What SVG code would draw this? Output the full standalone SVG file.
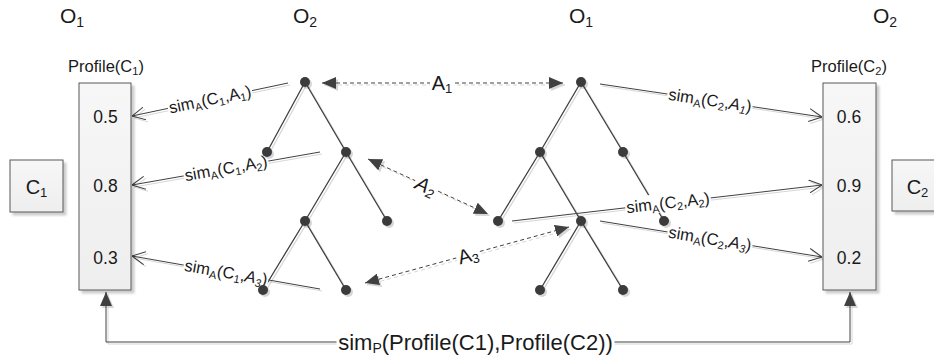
<svg xmlns="http://www.w3.org/2000/svg" width="934" height="356" viewBox="0 0 934 356">
  <style>
    text { font-family: "Liberation Sans", Arial, sans-serif; fill: #1a1a1a; }
    .title { font-size: 21px; }
    .cap { font-size: 16.5px; text-anchor: middle; }
    .val { font-size: 17.5px; text-anchor: middle; }
    .lbl { font-size: 16.5px; text-anchor: middle; }
    .big { font-size: 20px; text-anchor: middle; }
    .box { fill: url(#boxFill); stroke: #595959; stroke-width: 1; }
    .edge { stroke: #404040; stroke-width: 1.3; fill: none; }
    .conn { stroke: #404040; stroke-width: 1; fill: none; }
    .dash { stroke: #404040; stroke-width: 1; fill: none; stroke-dasharray: 4 3; }
    .dot { fill: #3a3a3a; }
    .bg { fill: #ffffff; }
  </style>
  <defs>
    <linearGradient id="boxFill" x1="0" y1="0" x2="0" y2="1">
      <stop offset="0" stop-color="#f7f7f7"/>
      <stop offset="1" stop-color="#eeeeee"/>
    </linearGradient>
    <filter id="shadow" x="-10%" y="-10%" width="130%" height="130%">
      <feDropShadow dx="2" dy="2" stdDeviation="0.6" flood-color="#000" flood-opacity="0.16"/>
    </filter>
    <filter id="boxShadow" x="-10%" y="-10%" width="130%" height="130%">
      <feDropShadow dx="3" dy="3" stdDeviation="0.8" flood-color="#000" flood-opacity="0.2"/>
    </filter>
    <marker id="open" viewBox="0 0 13 14" refX="13" refY="7" markerWidth="13" markerHeight="14" orient="auto" markerUnits="userSpaceOnUse">
      <path d="M0,0.5 L13,7 L0,13.5" fill="none" stroke="#404040" stroke-width="1"/>
    </marker>
    <marker id="tri" viewBox="0 0 14 12" refX="14" refY="6" markerWidth="14" markerHeight="12" orient="auto-start-reverse" markerUnits="userSpaceOnUse">
      <path d="M0,0 L14,6 L0,12 z" fill="#404040"/>
    </marker>
  </defs>

  <rect width="934" height="356" fill="#ffffff"/>

  <!-- ontology titles -->
  <g id="titles">
    <text class="title" x="60" y="23">O<tspan font-size="14" dy="4">1</tspan></text>
    <text class="title" x="293" y="23">O<tspan font-size="14" dy="4">2</tspan></text>
    <text class="title" x="569" y="23">O<tspan font-size="14" dy="4">1</tspan></text>
    <text class="title" x="873" y="23">O<tspan font-size="14" dy="4">2</tspan></text>
  </g>

  <g id="connectors">
    <!-- tree edges -->
    <g id="edges-o2" filter="url(#shadow)">
      <path class="edge" d="M305,82 L267,152 M305,82 L346,152 M346,152 L305,221 M346,152 L387,221 M305,221 L263,290 M305,221 L346,290"/>
    </g>
    <g id="edges-o1" filter="url(#shadow)">
      <path class="edge" d="M581,82 L540,152 M581,82 L623,152 M540,152 L498,221 M540,152 L581,221 M623,152 L664,221 M581,221 L540,290 M581,221 L623,290"/>
    </g>

    <!-- similarity links into the profiles -->
    <g id="sim-links" filter="url(#shadow)">
      <line class="conn" x1="288" y1="83" x2="132" y2="116" marker-end="url(#open)"/>
      <line class="conn" x1="320" y1="152" x2="132" y2="185" marker-end="url(#open)"/>
      <line class="conn" x1="320" y1="289" x2="132" y2="256" marker-end="url(#open)"/>
      <line class="conn" x1="600" y1="84" x2="822" y2="117" marker-end="url(#open)"/>
      <line class="conn" x1="512" y1="221" x2="822" y2="185" marker-end="url(#open)"/>
      <line class="conn" x1="600" y1="221" x2="822" y2="257" marker-end="url(#open)"/>
    </g>

    <!-- alignments between the trees -->
    <g id="alignments" filter="url(#shadow)">
      <line class="dash" x1="322" y1="83" x2="563" y2="83" marker-start="url(#tri)" marker-end="url(#tri)"/>
      <line class="dash" x1="368" y1="159" x2="488" y2="214" marker-start="url(#tri)" marker-end="url(#tri)"/>
      <line class="dash" x1="365" y1="283" x2="569" y2="227" marker-start="url(#tri)" marker-end="url(#tri)"/>
    </g>

    <!-- profile similarity -->
    <g id="profile-link" filter="url(#shadow)">
      <path class="conn" d="M106,292 V342 H850 V292" marker-start="url(#tri)" marker-end="url(#tri)"/>
    </g>

    <!-- link labels -->
    <g id="labels">
      <g transform="translate(210,99.5) rotate(-11.9)">
        <rect class="bg" x="-43" y="-10" width="86" height="19"/>
        <text class="lbl" y="5.5">sim<tspan font-size="11" dy="3">A</tspan><tspan dy="-3">(C</tspan><tspan font-size="11" dy="3">1</tspan><tspan dy="-3">,A</tspan><tspan font-size="11" dy="3">1</tspan><tspan dy="-3">)</tspan></text>
      </g>
      <g transform="translate(226,168.5) rotate(-10)">
        <rect class="bg" x="-43" y="-10" width="86" height="19"/>
        <text class="lbl" y="5.5">sim<tspan font-size="11" dy="3">A</tspan><tspan dy="-3">(C</tspan><tspan font-size="11" dy="3">1</tspan><tspan dy="-3">,A</tspan><tspan font-size="11" dy="3">2</tspan><tspan dy="-3">)</tspan></text>
      </g>
      <g transform="translate(226,272.5) rotate(10)">
        <rect class="bg" x="-43" y="-10" width="86" height="19"/>
        <text class="lbl" y="5.5">sim<tspan font-size="11" dy="3">A</tspan><tspan dy="-3">(C</tspan><tspan font-size="11" dy="3">1</tspan><tspan dy="-3">,</tspan><tspan font-style="italic">A</tspan><tspan font-size="11" dy="3" font-style="italic">3</tspan><tspan dy="-3">)</tspan></text>
      </g>
      <g transform="translate(710,100.4) rotate(8.5)">
        <rect class="bg" x="-43" y="-10" width="86" height="19"/>
        <text class="lbl" y="5.5">sim<tspan font-size="11" dy="3">A</tspan><tspan dy="-3">(C</tspan><tspan font-size="11" dy="3">2</tspan><tspan dy="-3">,</tspan><tspan font-style="italic">A</tspan><tspan font-size="11" dy="3" font-style="italic">1</tspan><tspan dy="-3">)</tspan></text>
      </g>
      <g transform="translate(668,202.9) rotate(-6.6)">
        <rect class="bg" x="-43" y="-10" width="86" height="19"/>
        <text class="lbl" y="5.5">sim<tspan font-size="11" dy="3">A</tspan><tspan dy="-3">(C</tspan><tspan font-size="11" dy="3">2</tspan><tspan dy="-3">,A</tspan><tspan font-size="11" dy="3">2</tspan><tspan dy="-3">)</tspan></text>
      </g>
      <g transform="translate(710,238.8) rotate(9.2)">
        <rect class="bg" x="-43" y="-10" width="86" height="19"/>
        <text class="lbl" y="5.5">sim<tspan font-size="11" dy="3">A</tspan><tspan dy="-3">(C</tspan><tspan font-size="11" dy="3">2</tspan><tspan dy="-3">,</tspan><tspan font-style="italic">A</tspan><tspan font-size="11" dy="3" font-style="italic">3</tspan><tspan dy="-3">)</tspan></text>
      </g>

      <g transform="translate(442,83)">
        <rect class="bg" x="-12" y="-10" width="24" height="20"/>
        <text class="big" y="7">A<tspan font-size="13" dy="3">1</tspan></text>
      </g>
      <g transform="translate(426,186) rotate(24.6)">
        <rect class="bg" x="-12" y="-10" width="24" height="20"/>
        <text class="big" y="7" font-style="italic">A<tspan font-size="13" dy="3">2</tspan></text>
      </g>
      <g transform="translate(468,255) rotate(-15.4)">
        <rect class="bg" x="-12" y="-10" width="24" height="20"/>
        <text class="big" y="7">A<tspan font-size="13" dy="3">3</tspan></text>
      </g>

      <g transform="translate(475.5,342)">
        <rect class="bg" x="-139" y="-12" width="278" height="24"/>
        <text font-size="22" text-anchor="middle" y="7.5">sim<tspan font-size="14" dy="3">P</tspan><tspan dy="-3">(Profile(C1),Profile(C2))</tspan></text>
      </g>
    </g>
  </g>

  <!-- tree nodes of O2 -->
  <g id="o2-tree" filter="url(#shadow)">
    <g id="o2-n1"><circle class="dot" cx="305" cy="82" r="5"/></g>
    <g id="o2-n2"><circle class="dot" cx="267" cy="152" r="5"/></g>
    <g id="o2-n3"><circle class="dot" cx="346" cy="152" r="5"/></g>
    <g id="o2-n4"><circle class="dot" cx="305" cy="221" r="5"/></g>
    <g id="o2-n5"><circle class="dot" cx="387" cy="221" r="5"/></g>
    <g id="o2-n6"><circle class="dot" cx="263" cy="290" r="5"/></g>
    <g id="o2-n7"><circle class="dot" cx="346" cy="290" r="5"/></g>
  </g>

  <!-- tree nodes of O1 -->
  <g id="o1-tree" filter="url(#shadow)">
    <g id="o1-n1"><circle class="dot" cx="581" cy="82" r="5"/></g>
    <g id="o1-n2"><circle class="dot" cx="540" cy="152" r="5"/></g>
    <g id="o1-n3"><circle class="dot" cx="623" cy="152" r="5"/></g>
    <g id="o1-n4"><circle class="dot" cx="498" cy="221" r="5"/></g>
    <g id="o1-n5"><circle class="dot" cx="581" cy="221" r="5"/></g>
    <g id="o1-n6"><circle class="dot" cx="664" cy="221" r="5"/></g>
    <g id="o1-n7"><circle class="dot" cx="540" cy="290" r="5"/></g>
    <g id="o1-n8"><circle class="dot" cx="623" cy="290" r="5"/></g>
  </g>

  <!-- concept C1 -->
  <g id="c1">
    <rect class="box" x="10" y="160" width="53" height="52" filter="url(#boxShadow)"/>
    <text class="big" x="36.5" y="194">C<tspan font-size="13" dy="3">1</tspan></text>
  </g>

  <!-- profile of C1 -->
  <g id="profile-c1">
    <text class="cap" x="106" y="72">Profile(C<tspan font-size="11" dy="3">1</tspan><tspan dy="-3">)</tspan></text>
    <rect class="box" x="79" y="83" width="52" height="207" filter="url(#boxShadow)"/>
    <text class="val" x="105.5" y="122.5">0.5</text>
    <text class="val" x="105.5" y="192">0.8</text>
    <text class="val" x="105.5" y="263.5">0.3</text>
  </g>

  <!-- profile of C2 -->
  <g id="profile-c2">
    <text class="cap" x="849" y="72">Profile(C<tspan font-size="11" dy="3">2</tspan><tspan dy="-3">)</tspan></text>
    <rect class="box" x="823" y="83" width="53" height="207" filter="url(#boxShadow)"/>
    <text class="val" x="849" y="122.5">0.6</text>
    <text class="val" x="849" y="192">0.9</text>
    <text class="val" x="849" y="263.5">0.2</text>
  </g>

  <!-- concept C2 -->
  <g id="c2">
    <rect class="box" x="892" y="160" width="53" height="51" filter="url(#boxShadow)"/>
    <text class="big" x="917.5" y="194">C<tspan font-size="13" dy="3">2</tspan></text>
  </g>
</svg>
